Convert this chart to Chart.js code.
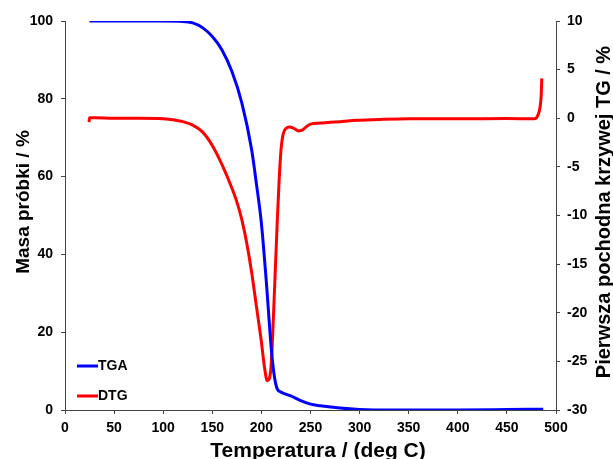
<!DOCTYPE html>
<html>
<head>
<meta charset="utf-8">
<script src="https://cdn.jsdelivr.net/npm/chart.js@4"></script>
<style>
  html, body { margin: 0; padding: 0; background: #fff; }
  #wrap { width: 613px; height: 459px; }
</style>
</head>
<body>
<div id="wrap"><canvas id="myChart"></canvas></div>
<script>
// temperature (deg C) and sample mass (%) for the TGA curve
const tgaTemp = [25, 50, 80, 100, 120, 130, 140, 150, 160, 170, 180, 190, 195, 200, 205, 210, 213, 216, 220, 230, 240, 250, 260, 280, 300, 330, 400, 450, 487];
const tgaMass = [100, 100, 100, 100, 99.9, 99.5, 98.3, 96, 92.5, 87, 79, 67, 58, 48, 33, 16, 9, 5.5, 4.6, 3.6, 2.4, 1.5, 1.1, 0.5, 0.15, 0, 0, 0.1, 0.2];

// temperature (deg C) and first derivative (%) for the DTG curve
const dtgTemp = [24.5, 25, 30, 50, 75, 100, 110, 120, 130, 140, 150, 160, 170, 175, 180, 185, 190, 195, 200, 203, 206, 208, 210, 212, 214, 216, 218, 220, 222, 225, 229, 233, 238, 242, 246, 250, 260, 270, 280, 290, 300, 320, 350, 400, 450, 478, 481, 483.5, 485, 485.5];
const dtgVal = [-0.4, 0.05, 0.05, 0, 0, -0.05, -0.15, -0.35, -0.7, -1.4, -2.8, -4.8, -7.2, -8.6, -10.4, -12.8, -15.8, -19.4, -23, -25.5, -27, -26.8, -25.3, -21, -16, -11, -6.5, -3.2, -1.7, -1.05, -0.9, -1.05, -1.3, -1.2, -0.85, -0.6, -0.5, -0.4, -0.35, -0.25, -0.2, -0.12, -0.05, -0.05, -0.03, -0.05, 0.2, 1.0, 2.5, 4.1];

// axis ticks
const xTicks = [0, 50, 100, 150, 200, 250, 300, 350, 400, 450, 500];
const leftTicks = [0, 20, 40, 60, 80, 100];
const rightTicks = [-30, -25, -20, -15, -10, -5, 0, 5, 10];

const seriesNames = ['TGA', 'DTG'];
const seriesColors = ['#0000ff', '#ff0000'];
const xTitle = 'Temperatura / (deg C)';
const leftTitle = 'Masa próbki / %';
const rightTitle = 'Pierwsza pochodna krzywej TG / %';

const toPoints = (xs, ys) => xs.map((x, i) => ({ x: x, y: ys[i] }));

const fontFam = 'Arial, "Liberation Sans", sans-serif';
const tickFont = { family: fontFam, size: 14, weight: 'bold' };
const axisColor = '#444';

// legend inside the plot (lower left) and the three axis titles
const extras = {
    id: 'extras',
    afterDatasetsDraw(chart) {
        const ctx = chart.ctx;
        const area = chart.chartArea;
        const rows = [area.bottom - 44, area.bottom - 14];
        ctx.save();
        ctx.font = 'bold 14px ' + fontFam;
        ctx.textBaseline = 'middle';
        seriesNames.forEach((name, i) => {
            ctx.strokeStyle = seriesColors[i];
            ctx.lineWidth = 3;
            ctx.beginPath();
            ctx.moveTo(area.left + 12, rows[i]);
            ctx.lineTo(area.left + 33, rows[i]);
            ctx.stroke();
            ctx.fillStyle = '#000';
            ctx.fillText(name, area.left + 33, rows[i]);
        });

        ctx.fillStyle = '#000';
        ctx.textAlign = 'center';
        ctx.textBaseline = 'alphabetic';
        ctx.font = 'bold 21px ' + fontFam;
        ctx.fillText(xTitle, 318, 456.5);

        ctx.font = 'bold 19px ' + fontFam;
        ctx.save();
        ctx.translate(28.5, 202);
        ctx.rotate(-Math.PI / 2);
        ctx.fillText(leftTitle, 0, 0);
        ctx.restore();

        ctx.font = 'bold 20px ' + fontFam;
        ctx.save();
        ctx.translate(610, 212);
        ctx.rotate(-Math.PI / 2);
        ctx.fillText(rightTitle, 0, 0);
        ctx.restore();
        ctx.restore();
    }
};

const ctx = document.getElementById('myChart');

new Chart(ctx, {
    type: 'scatter',
    data: {
        datasets: [{
            label: seriesNames[0],
            data: toPoints(tgaTemp, tgaMass),
            yAxisID: 'y',
            showLine: true,
            borderColor: seriesColors[0],
            borderWidth: 3,
            pointRadius: 0,
            cubicInterpolationMode: 'monotone'
        }, {
            label: seriesNames[1],
            data: toPoints(dtgTemp, dtgVal),
            yAxisID: 'y2',
            showLine: true,
            borderColor: seriesColors[1],
            borderWidth: 3,
            pointRadius: 0,
            cubicInterpolationMode: 'monotone'
        }]
    },
    options: {
        responsive: true,
        maintainAspectRatio: false,
        animation: false,
        layout: { padding: { top: 21, right: 0, bottom: 0, left: 0 } },
        plugins: {
            legend: { display: false },
            tooltip: { enabled: false }
        },
        scales: {
            x: {
                type: 'linear',
                min: 0,
                max: 500,
                afterBuildTicks: (axis) => { axis.ticks = xTicks.map(v => ({ value: v })); },
                afterFit: (axis) => { axis.height = 49; },
                ticks: { font: tickFont, color: '#000', padding: 6, maxRotation: 0 },
                grid: { drawOnChartArea: false, drawTicks: true, tickLength: 4, color: axisColor },
                border: { color: axisColor, width: 1 }
            },
            y: {
                position: 'left',
                min: 0,
                max: 100,
                afterBuildTicks: (axis) => { axis.ticks = leftTicks.map(v => ({ value: v })); },
                afterFit: (axis) => { axis.width = 65; },
                ticks: { font: tickFont, color: '#000', padding: 8 },
                grid: { drawOnChartArea: false, drawTicks: true, tickLength: 4, color: axisColor },
                border: { color: axisColor, width: 1 }
            },
            y2: {
                position: 'right',
                min: -30,
                max: 10,
                afterBuildTicks: (axis) => { axis.ticks = rightTicks.map(v => ({ value: v })); },
                afterFit: (axis) => { axis.width = 57; },
                ticks: { font: tickFont, color: '#000', padding: 7 },
                grid: { drawOnChartArea: false, drawTicks: true, tickLength: 4, color: axisColor },
                border: { color: axisColor, width: 1 }
            }
        }
    },
    plugins: [extras]
});
</script>
</body>
</html>
